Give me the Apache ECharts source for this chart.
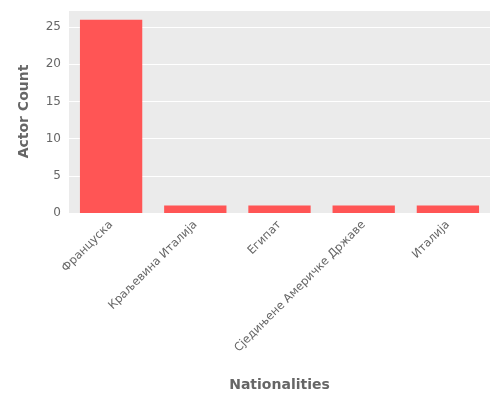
<!DOCTYPE html>
<html><head><meta charset="utf-8">
<script src="https://cdn.jsdelivr.net/npm/echarts@6/dist/echarts.min.js"></script>
<style>html,body{margin:0;padding:0;background:#fff}#c{width:500px;height:400px}</style>
</head><body><div id="c"></div>
<script>
const categories = ["Француска","Краљевина Италија","Египат","Сједињене Америчке Државе","Италија"];
const counts = [26,1,1,1,1];
const yTicks = [0,5,10,15,20,25];
const chart = echarts.init(document.getElementById('c'));
chart.setOption({
  animation:false,
  grid:{left:69,right:10,top:10,bottom:187,backgroundColor:'#EBEBEB',show:true,borderWidth:0},
  xAxis:{type:'category',data:categories,name:'Nationalities',nameLocation:'middle',nameGap:165,
    nameTextStyle:{color:'#666',fontSize:14,fontFamily:'DejaVu Sans',fontWeight:'bold'},
    axisLine:{show:false},axisTick:{show:false},
    axisLabel:{rotate:45,color:'#666',fontSize:11.5,fontFamily:'DejaVu Sans',interval:0,margin:10}},
  yAxis:{type:'value',min:0,max:27.3,interval:5,name:'Actor Count',nameLocation:'middle',nameGap:38,
    nameTextStyle:{color:'#666',fontSize:14,fontFamily:'DejaVu Sans',fontWeight:'bold'},
    axisLine:{show:false},axisTick:{show:false},
    axisLabel:{color:'#666',fontSize:12,fontFamily:'DejaVu Sans',formatter:v=>yTicks.includes(v)?String(v):''},
    splitLine:{lineStyle:{color:'#fff',width:1}}},
  series:[{type:'bar',data:counts,barCategoryGap:'26%',itemStyle:{color:'#FF5555'}}]
});
</script></body></html>
